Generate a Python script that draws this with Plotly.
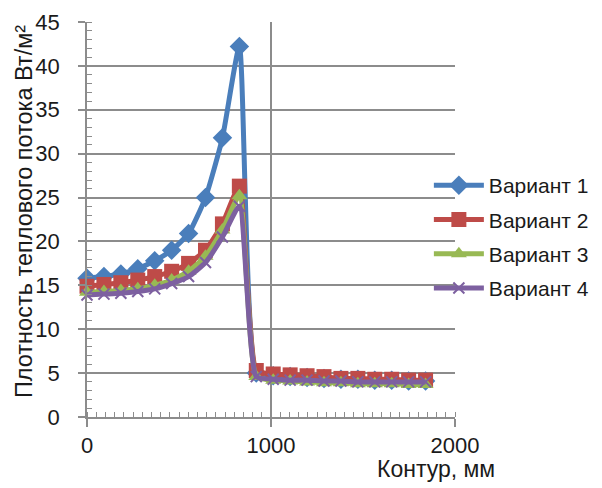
import plotly.graph_objects as go

# Contour position, mm
contour_mm = [0, 92, 184, 276, 368, 460, 552, 644, 736, 828,
              920, 1012, 1104, 1196, 1288, 1380, 1472, 1564, 1656, 1748, 1840]

variant_1 = [15.8, 16.0, 16.3, 16.9, 17.8, 19.0, 20.9, 25.0, 31.8, 42.2,
             5.0, 4.7, 4.6, 4.5, 4.4, 4.3, 4.3, 4.2, 4.2, 4.1, 4.1]
variant_2 = [14.9, 15.1, 15.3, 15.6, 16.0, 16.6, 17.5, 19.0, 22.0, 26.3,
             5.3, 4.9, 4.8, 4.7, 4.6, 4.4, 4.4, 4.3, 4.3, 4.2, 4.2]
variant_3 = [14.2, 14.3, 14.4, 14.6, 15.0, 15.6, 16.6, 18.3, 21.3, 25.2,
             4.6, 4.2, 4.1, 4.0, 3.9, 3.9, 3.8, 3.8, 3.8, 3.7, 3.7]
variant_4 = [13.9, 14.0, 14.1, 14.3, 14.6, 15.2, 16.0, 17.6, 20.5, 24.0,
             4.6, 4.3, 4.2, 4.2, 4.1, 4.1, 4.0, 4.0, 4.0, 4.0, 4.0]

series_names = ["Вариант 1", "Вариант 2", "Вариант 3", "Вариант 4"]
series_values = [variant_1, variant_2, variant_3, variant_4]
colors = ["#4A7EBB", "#BE4B48", "#98B954", "#7D60A0"]
symbols = ["diamond", "square", "triangle-up", "x-thin"]
sizes = [15, 15, 14, 11]

x_ticks = [0, 1000, 2000]
y_ticks = [0, 5, 10, 15, 20, 25, 30, 35, 40, 45]

FONT = "Liberation Sans, Arial, sans-serif"
TXT = "#1a1a1a"
GRID = "#8c8c8c"

fig = go.Figure()
for i, (name, vals) in enumerate(zip(series_names, series_values)):
    marker = dict(symbol=symbols[i], size=sizes[i], color=colors[i])
    if symbols[i] == "x-thin":
        marker["line"] = dict(color=colors[i], width=2)
    fig.add_trace(go.Scatter(
        x=contour_mm, y=vals, name=name, mode="lines+markers",
        line=dict(color=colors[i], width=5, shape="spline", smoothing=0.5),
        marker=marker, cliponaxis=False, legendgroup=name,
    ))

# page body has an 8px margin, so the figure is sized 8px smaller
fig.update_layout(
    width=594, height=480,
    margin=dict(l=79, r=147, t=14, b=71, autoexpand=False),
    paper_bgcolor="white", plot_bgcolor="white",
    font=dict(family=FONT, size=22, color=TXT),
    showlegend=True,
    legend=dict(x=0.929, y=0.638, xanchor="left", yanchor="top",
                bgcolor="rgba(0,0,0,0)", font=dict(size=21, color=TXT),
                traceorder="grouped", tracegroupgap=4, itemwidth=50),
    xaxis=dict(range=[0, 2000], tickvals=x_ticks, ticktext=[str(v) for v in x_ticks],
               automargin=False,
               showgrid=True, gridcolor=GRID, gridwidth=1.5,
               showline=True, linecolor=GRID, linewidth=1.5,
               ticks="outside", ticklen=8, tickcolor=GRID, tickwidth=1.5,
               ticklabelstandoff=0,
               minor=dict(dtick=50, ticks="inside", ticklen=5, tickcolor=GRID, tickwidth=1, showgrid=False),
               zeroline=False, tickfont=dict(size=22, color=TXT)),
    yaxis=dict(range=[0, 45], tickvals=y_ticks, ticktext=[str(v) for v in y_ticks],
               automargin=False,
               showgrid=True, gridcolor=GRID, gridwidth=1.5,
               showline=True, linecolor=GRID, linewidth=1.5,
               ticks="outside", ticklen=7, tickcolor=GRID, tickwidth=1.5,
               ticklabelstandoff=14,
               minor=dict(dtick=1, ticks="inside", ticklen=5, tickcolor=GRID, tickwidth=1, showgrid=False),
               zeroline=False, tickfont=dict(size=22, color=TXT)),
)

fig.add_annotation(text="Плотность теплового потока Вт/м²", xref="paper", yref="paper",
                   x=-0.171, y=0.519, xanchor="center", yanchor="middle", textangle=-90,
                   showarrow=False, font=dict(size=23.5, color=TXT, family=FONT))

fig.add_annotation(text="Контур, мм", xref="paper", yref="paper",
                   x=1.114, y=-0.132, xanchor="right", yanchor="middle",
                   showarrow=False, font=dict(size=23, color=TXT, family=FONT))

fig.write_html("out.html")
